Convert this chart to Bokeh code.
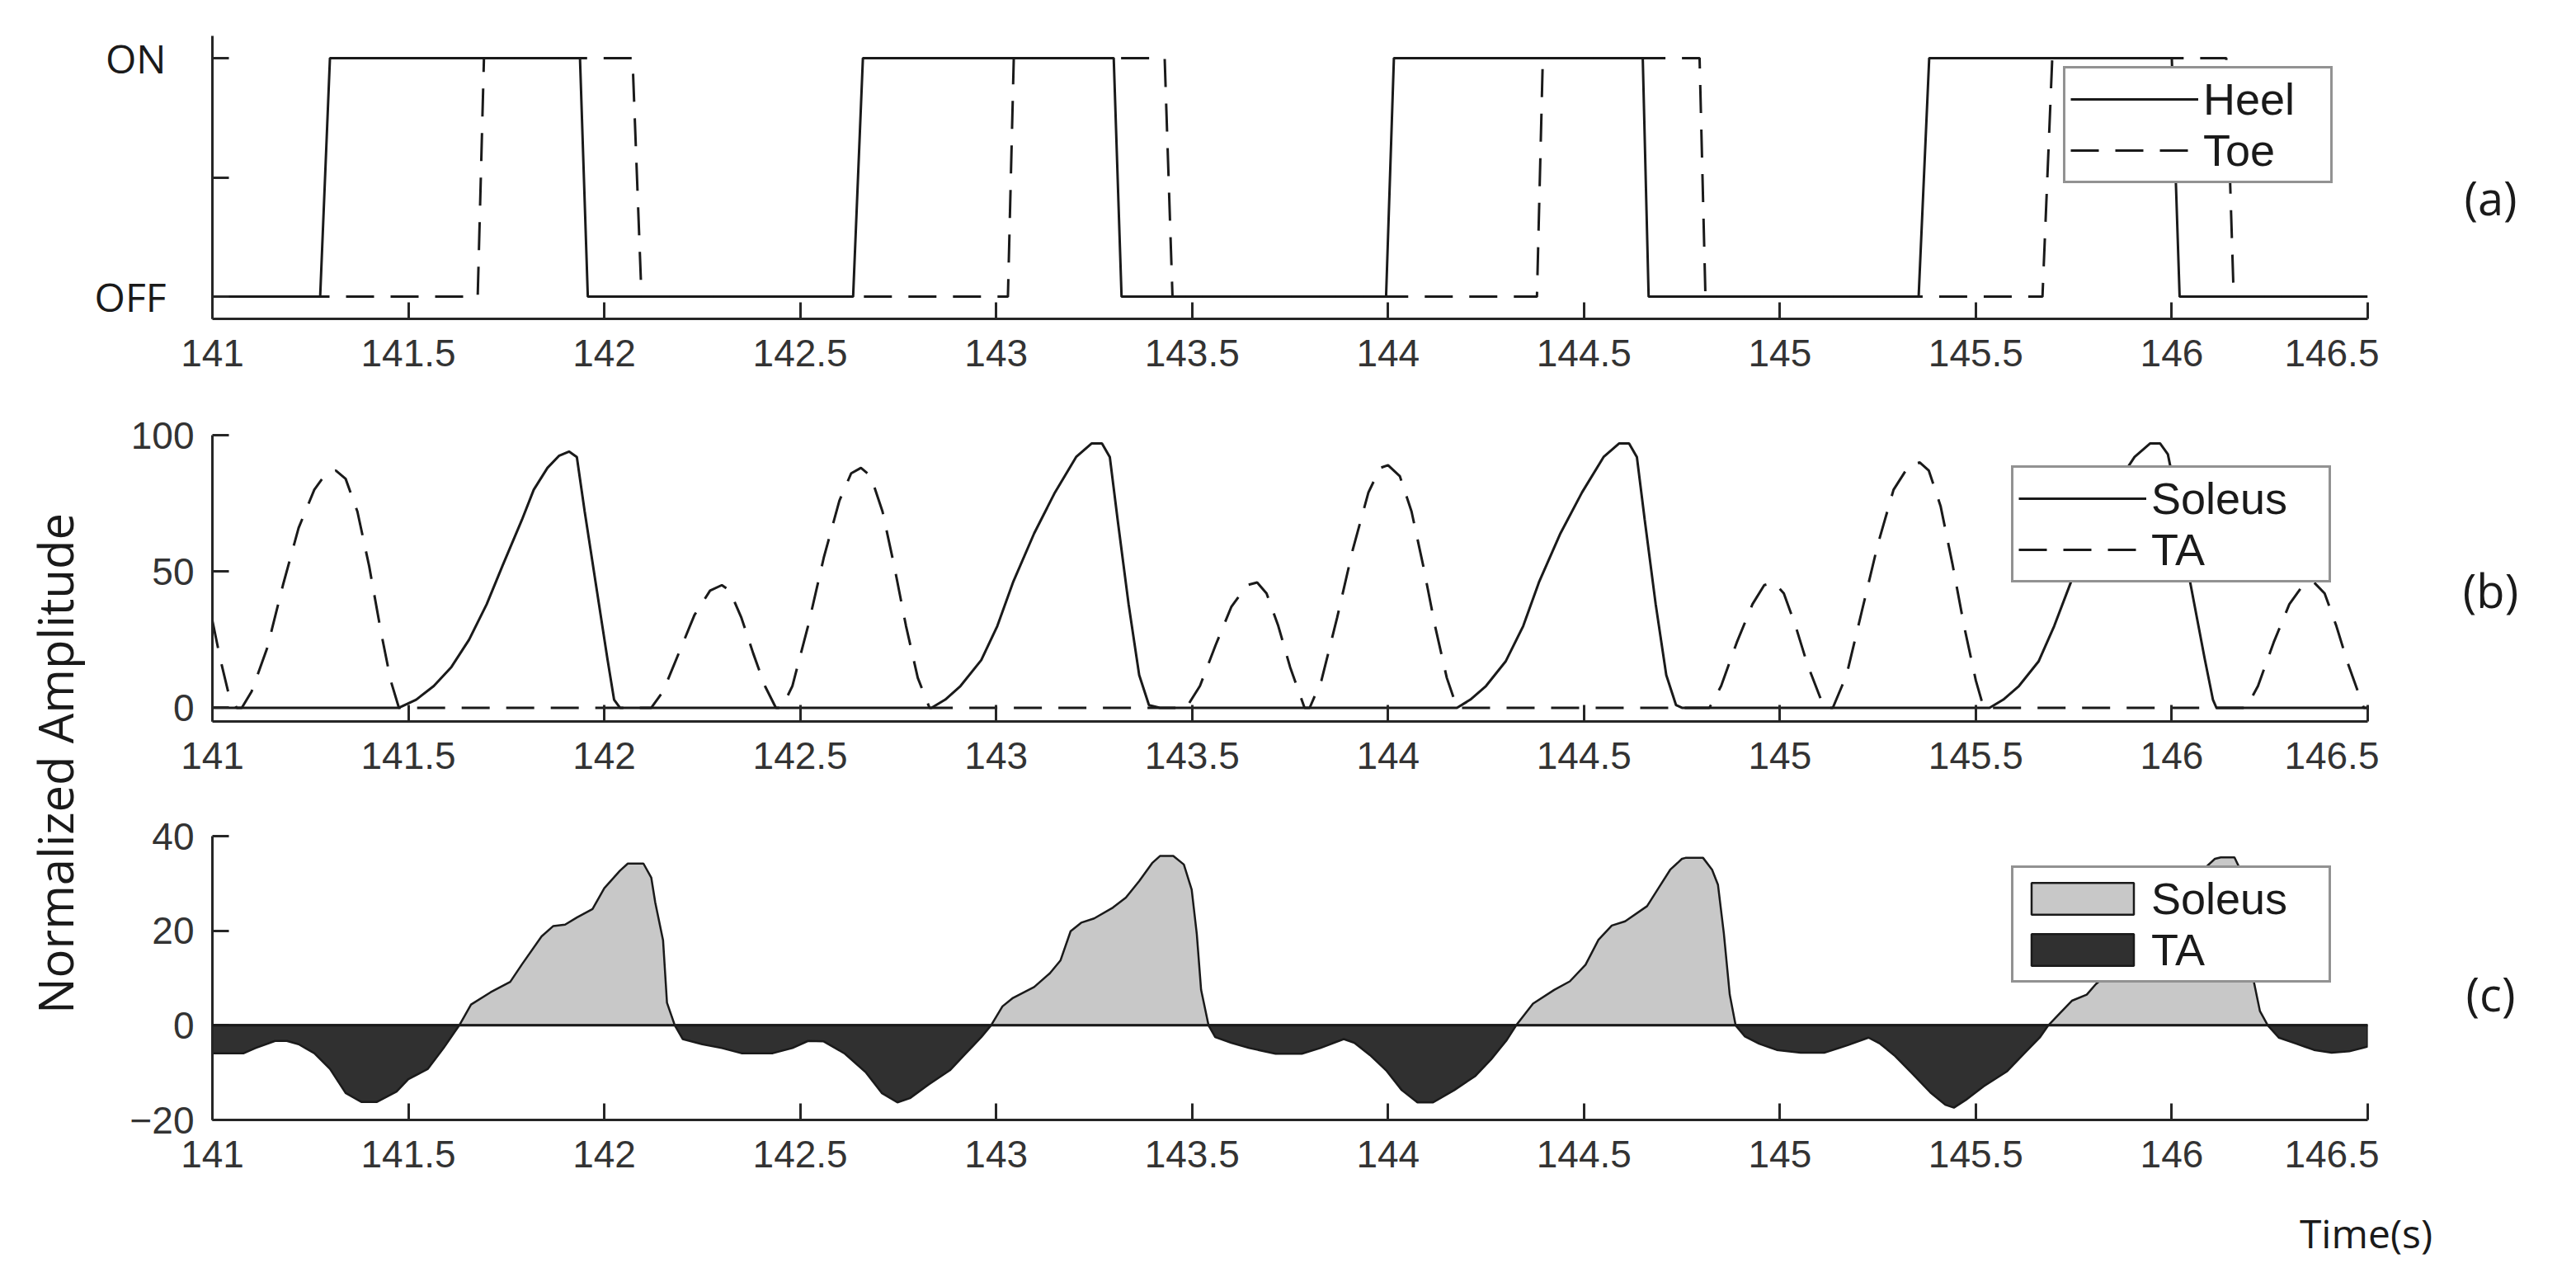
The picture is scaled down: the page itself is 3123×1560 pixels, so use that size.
import numpy as np
from bokeh.embed import file_html
from bokeh.layouts import column, row
from bokeh.models import FixedTicker, Label, Legend, LegendItem, Range1d, Span
from bokeh.plotting import figure
from bokeh.resources import INLINE

# x axis, shared by the three panels
x_ticks = [141, 141.5, 142, 142.5, 143, 143.5, 144, 144.5, 145, 145.5, 146, 146.5]
x_tick_labels = ["141", "141.5", "142", "142.5", "143", "143.5", "144", "144.5",
                 "145", "145.5", "146", "146.5"]

# (a) foot switches, 0 = OFF, 1 = ON
heel_t = [141.0, 141.275, 141.30, 141.938, 141.958, 142.635, 142.66, 143.30, 143.32,
          143.995, 144.015, 144.65, 144.665, 145.354, 145.381, 146.0, 146.02, 146.5]
heel_v = [0, 0, 1, 1, 0, 0, 1, 1, 0, 0, 1, 1, 0, 0, 1, 1, 0, 0]
toe_t = [141.0, 141.677, 141.693, 142.072, 142.095, 143.03, 143.045, 143.43, 143.45,
         144.38, 144.395, 144.795, 144.81, 145.67, 145.695, 146.139, 146.158, 146.5]
toe_v = [0, 0, 1, 1, 0, 0, 1, 1, 0, 0, 1, 1, 0, 0, 1, 1, 0, 0]
switch_ticks = [0, 0.5, 1]
switch_labels = ["OFF", " ", "ON"]

# (b) normalized EMG envelopes
soleus_t = [141.0, 141.476, 141.52, 141.565, 141.61, 141.655, 141.70, 141.74, 141.79, 141.82,
            141.855, 141.885, 141.91, 141.93, 141.95, 141.98, 142.008, 142.025, 142.04,
            142.835, 142.87, 142.909, 142.962, 143.003, 143.043, 143.097, 143.15, 143.204,
            143.244, 143.27, 143.29, 143.31, 143.338, 143.365, 143.39, 143.418,
            144.176, 144.21, 144.25, 144.30, 144.345, 144.385, 144.44, 144.495, 144.55,
            144.59, 144.615, 144.635, 144.655, 144.683, 144.71, 144.735, 144.75,
            145.535, 145.57, 145.61, 145.66, 145.70, 145.745, 145.795, 145.85, 145.905,
            145.945, 145.97, 145.99, 146.017, 146.047, 146.084, 146.105, 146.114, 146.5]
soleus_v = [0, 0, 3, 8, 15, 25, 38, 52, 69, 80, 88, 92.5, 94, 92, 72, 44, 18, 3, 0,
            0, 3, 8, 17.5, 30, 46, 64, 79, 92, 97, 97, 92, 69, 38, 12, 1, 0,
            0, 3, 8, 17, 30, 46, 64, 79, 92, 97, 97, 92, 69, 38, 12, 1, 0,
            0, 3, 8, 17, 30, 47, 64, 80, 92, 97, 97, 93, 74, 46, 18, 3, 0, 0]
ta_t = [141.0, 141.02, 141.04, 141.062, 141.075, 141.10, 141.14, 141.18, 141.22, 141.26,
        141.29, 141.315, 141.34, 141.37, 141.40, 141.43, 141.455, 141.476,
        142.12, 142.15, 142.19, 142.23, 142.27, 142.30, 142.32, 142.35, 142.38, 142.41,
        142.438, 142.453, 142.48, 142.52, 142.56, 142.60, 142.63, 142.655, 142.68, 142.71,
        142.74, 142.77, 142.80, 142.83,
        143.485, 143.52, 143.56, 143.60, 143.64, 143.666, 143.69, 143.72, 143.75, 143.787,
        143.80, 143.83, 143.87, 143.91, 143.95, 143.98, 144.0, 144.03, 144.06, 144.09,
        144.12, 144.15, 144.176,
        144.82, 144.85, 144.89, 144.93, 144.96, 144.985, 145.01, 145.04, 145.07, 145.113,
        145.135, 145.17, 145.21, 145.25, 145.29, 145.33, 145.357, 145.38, 145.41, 145.44,
        145.47, 145.50, 145.52,
        146.19, 146.22, 146.26, 146.30, 146.335, 146.363, 146.39, 146.42, 146.45, 146.49, 146.5]
ta_v = [32, 18, 6, 0, 0, 6, 22, 45, 66, 80, 86, 87, 84, 72, 52, 28, 10, 0,
        0, 6, 20, 34, 43, 45, 43, 33, 20, 8, 0, 0, 8, 30, 55, 76, 86, 88, 85, 72, 52, 30, 11, 0,
        0, 8, 23, 37, 45, 46, 42, 30, 15, 0, 0, 10, 33, 58, 79, 88, 89, 85, 72, 52, 30, 11, 0,
        0, 8, 24, 38, 45, 46, 42, 30, 16, 0, 0, 12, 36, 60, 80, 89, 90, 87, 74, 53, 30, 10, 0,
        0, 8, 24, 38, 45, 46, 42, 30, 16, 0, 0]

# (c) soleus minus TA, positive part = soleus, negative part = TA
diff_t = [141.0, 141.08, 141.11, 141.16, 141.19, 141.22, 141.26, 141.30, 141.34, 141.38,
          141.42, 141.47, 141.50, 141.55, 141.59, 141.63, 141.66, 141.71, 141.76, 141.79,
          141.84, 141.87, 141.90, 141.93, 141.97, 142.0, 142.04, 142.06, 142.10, 142.12,
          142.13, 142.15, 142.16, 142.18, 142.20, 142.25, 142.30, 142.35, 142.43, 142.48,
          142.52, 142.56, 142.614, 142.668, 142.708, 142.748, 142.78, 142.828, 142.882, 142.922,
          142.962, 142.987, 143.016, 143.043, 143.097, 143.137, 143.164, 143.19, 143.217, 143.25,
          143.298, 143.331, 143.365, 143.398, 143.418, 143.452, 143.479, 143.499, 143.512, 143.523,
          143.542, 143.559, 143.60, 143.646, 143.713, 143.78, 143.827, 143.887, 143.914, 143.954,
          143.995, 144.035, 144.075, 144.115, 144.169, 144.223, 144.263, 144.303, 144.327, 144.37,
          144.424, 144.464, 144.504, 144.537, 144.571, 144.605, 144.661, 144.69, 144.72, 144.75,
          144.759, 144.804, 144.827, 144.842, 144.857, 144.872, 144.887, 144.91, 144.947, 144.992,
          145.053, 145.113, 145.173, 145.226, 145.256, 145.294, 145.339, 145.384, 145.422, 145.444,
          145.474, 145.52, 145.58, 145.625, 145.663, 145.685, 145.715, 145.745, 145.783, 145.806,
          145.86, 145.895, 145.93, 145.965, 146.02, 146.05, 146.08, 146.11, 146.125, 146.16,
          146.18, 146.195, 146.21, 146.225, 146.245, 146.273, 146.318, 146.363, 146.408, 146.453,
          146.5]
diff_v = [-5.9, -5.9, -4.8, -3.3, -3.3, -4.0, -5.9, -9.2, -14.3, -16.2,
          -16.2, -14.0, -11.4, -9.2, -4.8, 0, 4.4, 7.0, 9.2, 12.9,
          18.8, 21.0, 21.3, 22.8, 24.6, 29.0, 32.7, 34.2, 34.2, 31.2,
          26.0, 18.0, 4.8, 0, -2.9, -4.0, -4.8, -5.9, -5.9, -4.8,
          -3.3, -3.4, -6.0, -10.0, -14.3, -16.3, -15.4, -12.5, -9.5, -6.0,
          -2.5, 0, 4.0, 5.8, 8.1, 11.0, 13.7, 19.9, 21.7, 22.6,
          24.9, 27.0, 30.5, 34.3, 35.8, 35.8, 34.0, 28.7, 19.3, 7.5,
          0, -2.5, -3.7, -4.8, -6.0, -6.0, -4.8, -2.9, -3.7, -6.3,
          -9.5, -13.7, -16.3, -16.3, -13.7, -10.7, -7.2, -3.1, 0, 4.6,
          7.5, 9.3, 12.8, 18.1, 21.1, 22.0, 25.2, 29.0, 32.9, 35.2,
          35.4, 35.4, 32.9, 29.7, 19.4, 6.5, 0, -2.3, -3.9, -5.2,
          -5.8, -5.8, -4.2, -2.6, -3.9, -6.5, -10.3, -14.2, -16.8, -17.4,
          -15.8, -12.9, -9.7, -5.8, -2.6, 0, 2.6, 5.2, 6.5, 8.7,
          12.5, 18.0, 21.0, 22.0, 25.2, 29.0, 32.9, 35.2, 35.5, 35.5,
          32.0, 27.0, 9.0, 3.0, 0, -2.6, -3.9, -5.2, -5.8, -5.5,
          -4.5]

AXIS_COLOR = "#262626"
LINE_COLOR = "#1a1a1a"
TICK_FONT = "Liberation Sans"
NOTE_FONT = "Open Sans"
DASH = "34 20"


def make_panel(y_range, y_ticks, frame_height, border_top, border_bottom):
    p = figure(
        x_range=Range1d(141, 146.5),
        y_range=y_range,
        frame_width=2613,
        frame_height=frame_height,
        min_border_left=151,
        min_border_right=14,
        min_border_top=border_top,
        min_border_bottom=border_bottom,
        output_backend="svg",
        toolbar_location=None,
        tools="",
    )
    p.grid.visible = False
    p.outline_line_color = None
    p.xaxis.ticker = FixedTicker(ticks=x_ticks)
    p.xaxis.major_label_overrides = dict(zip(x_ticks, x_tick_labels))
    p.yaxis.ticker = FixedTicker(ticks=y_ticks)
    for ax in (p.xaxis[0], p.yaxis[0]):
        ax.axis_line_color = AXIS_COLOR
        ax.axis_line_width = 3
        ax.major_tick_line_color = AXIS_COLOR
        ax.major_tick_line_width = 3
        ax.major_tick_in = 20
        ax.major_tick_out = 0
        ax.minor_tick_line_color = None
        ax.major_label_text_font = TICK_FONT
        ax.major_label_text_font_size = "46px"
        ax.major_label_text_color = "#333333"
    p.xaxis.major_label_standoff = 25
    p.yaxis.major_label_standoff = 22
    return p


def add_legend(p, items, location, label_width):
    legend = Legend(items=items, location=location)
    legend.border_line_color = AXIS_COLOR
    legend.border_line_width = 3
    legend.background_fill_color = "white"
    legend.background_fill_alpha = 1.0
    legend.label_text_font = TICK_FONT
    legend.label_text_font_size = "54px"
    legend.label_text_color = LINE_COLOR
    legend.glyph_width = 155
    legend.glyph_height = 48
    legend.label_height = 48
    legend.label_width = label_width
    legend.label_standoff = 6
    legend.padding = 6
    legend.spacing = 0
    legend.margin = 0
    p.add_layout(legend)


def text_canvas(width, height):
    c = figure(
        x_range=Range1d(0, width),
        y_range=Range1d(0, height),
        frame_width=width,
        frame_height=height,
        min_border=0,
        x_axis_type=None,
        y_axis_type=None,
        output_backend="svg",
        toolbar_location=None,
        tools="",
    )
    c.grid.visible = False
    c.outline_line_color = None
    return c


def add_note(c, text, x, y, size, angle=0.0):
    c.add_layout(Label(x=x, y=y, text=text, angle=angle, text_font=NOTE_FONT,
                       text_font_size=size, text_color=LINE_COLOR,
                       text_align="center", text_baseline="middle"))


# (a)
pa = make_panel(Range1d(-0.093, 1.093), switch_ticks, 343, 43, 90)
pa.yaxis.major_label_overrides = dict(zip(switch_ticks, switch_labels))
pa.yaxis.major_label_text_font = NOTE_FONT
pa.yaxis.major_label_text_font_size = "48px"
pa.yaxis.major_label_text_color = LINE_COLOR
pa.yaxis.major_label_standoff = 56
r_heel = pa.line(heel_t, heel_v, line_color=LINE_COLOR, line_width=3)
r_toe = pa.line(toe_t, toe_v, line_color=LINE_COLOR, line_width=3, line_dash=DASH)
add_legend(pa, [LegendItem(label="Heel", renderers=[r_heel]),
                LegendItem(label="Toe", renderers=[r_toe])], (2244, 164), 148)

# (b)
pb = make_panel(Range1d(-5, 100), [0, 50, 100], 347, 51, 82)
r_sol = pb.line(soleus_t, soleus_v, line_color=LINE_COLOR, line_width=3)
r_ta = pb.line(ta_t, ta_v, line_color=LINE_COLOR, line_width=3, line_dash=DASH)
add_legend(pb, [LegendItem(label="Soleus", renderers=[r_sol]),
                LegendItem(label="TA", renderers=[r_ta])], (2181, 168), 209)

# (c)
pc = make_panel(Range1d(-20, 40), [-20, 0, 20, 40], 344, 57, 82)
diff_t_arr = np.array(diff_t)
diff_v_arr = np.array(diff_v)
patch_x = np.concatenate([[diff_t_arr[0]], diff_t_arr, [diff_t_arr[-1]]])
ta_patch_y = np.concatenate([[0], np.minimum(diff_v_arr, 0), [0]])
sol_patch_y = np.concatenate([[0], np.maximum(diff_v_arr, 0), [0]])
r_ta_fill = pc.patch(patch_x, ta_patch_y, fill_color="#303030", line_color=LINE_COLOR, line_width=2.5)
r_sol_fill = pc.patch(patch_x, sol_patch_y, fill_color="#c8c8c8", line_color=LINE_COLOR, line_width=2.5)
pc.add_layout(Span(location=0, dimension="width", line_color=LINE_COLOR, line_width=3))
add_legend(pc, [LegendItem(label="Soleus", renderers=[r_sol_fill]),
                LegendItem(label="TA", renderers=[r_ta_fill])], (2181, 166), 209)

# panel tags on the right, time label below, shared y label on the left
panel_h = 476 + 480 + 483
tags = text_canvas(223, panel_h)
add_note(tags, "(a)", 135, 1201, "56px")
add_note(tags, "(b)", 135, 725, "56px")
add_note(tags, "(c)", 135, 236, "56px")

time_canvas = text_canvas(3001, 105)
add_note(time_canvas, "Time(s)", 2762, 50, "48px")

ylab = text_canvas(106, panel_h + 105)
add_note(ylab, "Normalized Amplitude", 66, 619, "58px", angle=np.pi / 2)

layout = row(ylab, column(row(column(pa, pb, pc), tags), time_canvas))
open("out.html", "w").write(file_html(layout, INLINE))
